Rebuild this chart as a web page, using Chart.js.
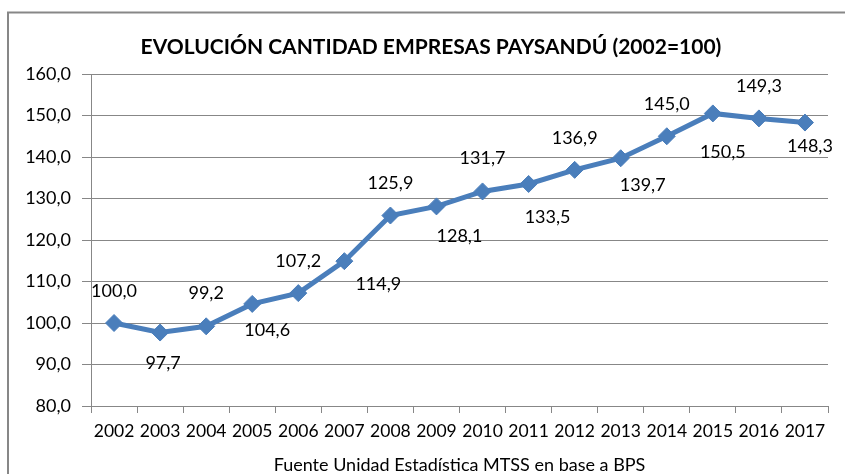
<!DOCTYPE html>
<html>
<head>
<meta charset="utf-8">
<script src="https://cdn.jsdelivr.net/npm/chart.js@4/dist/chart.umd.min.js"></script>
<style>
html,body{margin:0;padding:0;background:#fff;}
#wrap{width:845px;height:474px;}
</style>
</head>
<body>
<div id="wrap"><canvas id="c" width="845" height="474"></canvas></div>
<script>
// ---- data ----
const years = ["2002","2003","2004","2005","2006","2007","2008","2009","2010","2011","2012","2013","2014","2015","2016","2017"];
const indexValues = [100.0, 97.7, 99.2, 104.6, 107.2, 114.9, 125.9, 128.1, 131.7, 133.5, 136.9, 139.7, 145.0, 150.5, 149.3, 148.3];
const yTicks = [80, 90, 100, 110, 120, 130, 140, 150, 160];
const chartTitle = "EVOLUCIÓN CANTIDAD EMPRESAS PAYSANDÚ (2002=100)";
const sourceText = "Fuente Unidad Estadística MTSS en base a BPS";

// label placement (relative offsets from each point, styling only)
const labelShift = [[0,-32],[3,31],[0,-33],[15,26],[0,-32],[34,23],[0,-32],[23,30],[0,-33],[19,33],[0,-32],[22,27],[0,-32],[10,39],[0,-32],[5,24]];

const FONT = "Lato, 'Open Sans', sans-serif";
const fmt = v => v.toFixed(1).replace('.', ',');

const framePlugin = {
  id: 'frame',
  beforeDraw(chart) {
    const ctx = chart.ctx;
    ctx.save();
    ctx.fillStyle = '#fff';
    ctx.fillRect(0, 0, chart.width, chart.height);
    ctx.strokeStyle = '#878787';
    ctx.lineWidth = 2;
    ctx.strokeRect(8, 12.5, 860, 500);
    ctx.restore();
  },
  afterDraw(chart) {
    const ctx = chart.ctx;
    ctx.save();
    ctx.fillStyle = '#000';
    ctx.font = "bold 21px " + FONT;
    ctx.textAlign = 'center';
    ctx.textBaseline = 'middle';
    ctx.fillText(chartTitle, 431, 47);
    ctx.restore();
  }
};

const labelPlugin = {
  id: 'pointLabels',
  afterDatasetsDraw(chart) {
    const ctx = chart.ctx;
    const meta = chart.getDatasetMeta(0);
    ctx.save();
    ctx.fillStyle = '#000';
    ctx.font = "18px " + FONT;
    ctx.textAlign = 'center';
    ctx.textBaseline = 'middle';
    meta.data.forEach((pt, i) => {
      const s = labelShift[i] || [0, -32];
      ctx.fillText(fmt(indexValues[i]), pt.x + s[0], pt.y + s[1]);
    });
    ctx.restore();
  }
};

new Chart(document.getElementById('c'), {
  type: 'line',
  data: {
    labels: years,
    datasets: [{
      data: indexValues,
      borderColor: '#4A7EBB',
      backgroundColor: '#4A7EBB',
      borderWidth: 5,
      pointStyle: 'rectRot',
      pointRadius: 8.5,
      pointHoverRadius: 8.5,
      pointBackgroundColor: '#4A7EBB',
      pointBorderColor: '#4A7EBB',
      pointBorderWidth: 1,
      tension: 0,
      fill: false
    }]
  },
  options: {
    responsive: false,
    animation: false,
    devicePixelRatio: 1,
    layout: { padding: { left: 0, right: 17, top: 74, bottom: 0 } },
    plugins: {
      legend: { display: false },
      title: { display: false },
      tooltip: { enabled: false }
    },
    scales: {
      x: {
        type: 'category',
        offset: true,
        afterFit(scale) { scale.height = 68; },
        grid: { display: true, drawOnChartArea: false, drawTicks: true, tickLength: 7, offset: true, color: '#878787', lineWidth: 1 },
        border: { display: true, color: '#878787', width: 1 },
        ticks: { color: '#000', font: { family: FONT, size: 17.5 }, padding: 8, maxRotation: 0, autoSkip: false },
        title: { display: true, text: sourceText, color: '#000', font: { family: FONT, size: 18, lineHeight: 1 }, padding: { top: 0, bottom: 0 } }
      },
      y: {
        min: 80,
        max: 160,
        afterFit(scale) { scale.width = 91; },
        afterBuildTicks(scale) { scale.ticks = yTicks.map(v => ({ value: v })); },
        grid: { color: '#878787', lineWidth: 1, drawTicks: true, tickLength: 9 },
        border: { display: true, color: '#878787', width: 1 },
        ticks: { color: '#000', font: { family: FONT, size: 18 }, padding: 11, callback: v => fmt(v) }
      }
    }
  },
  plugins: [framePlugin, labelPlugin]
});
</script>
</body>
</html>
